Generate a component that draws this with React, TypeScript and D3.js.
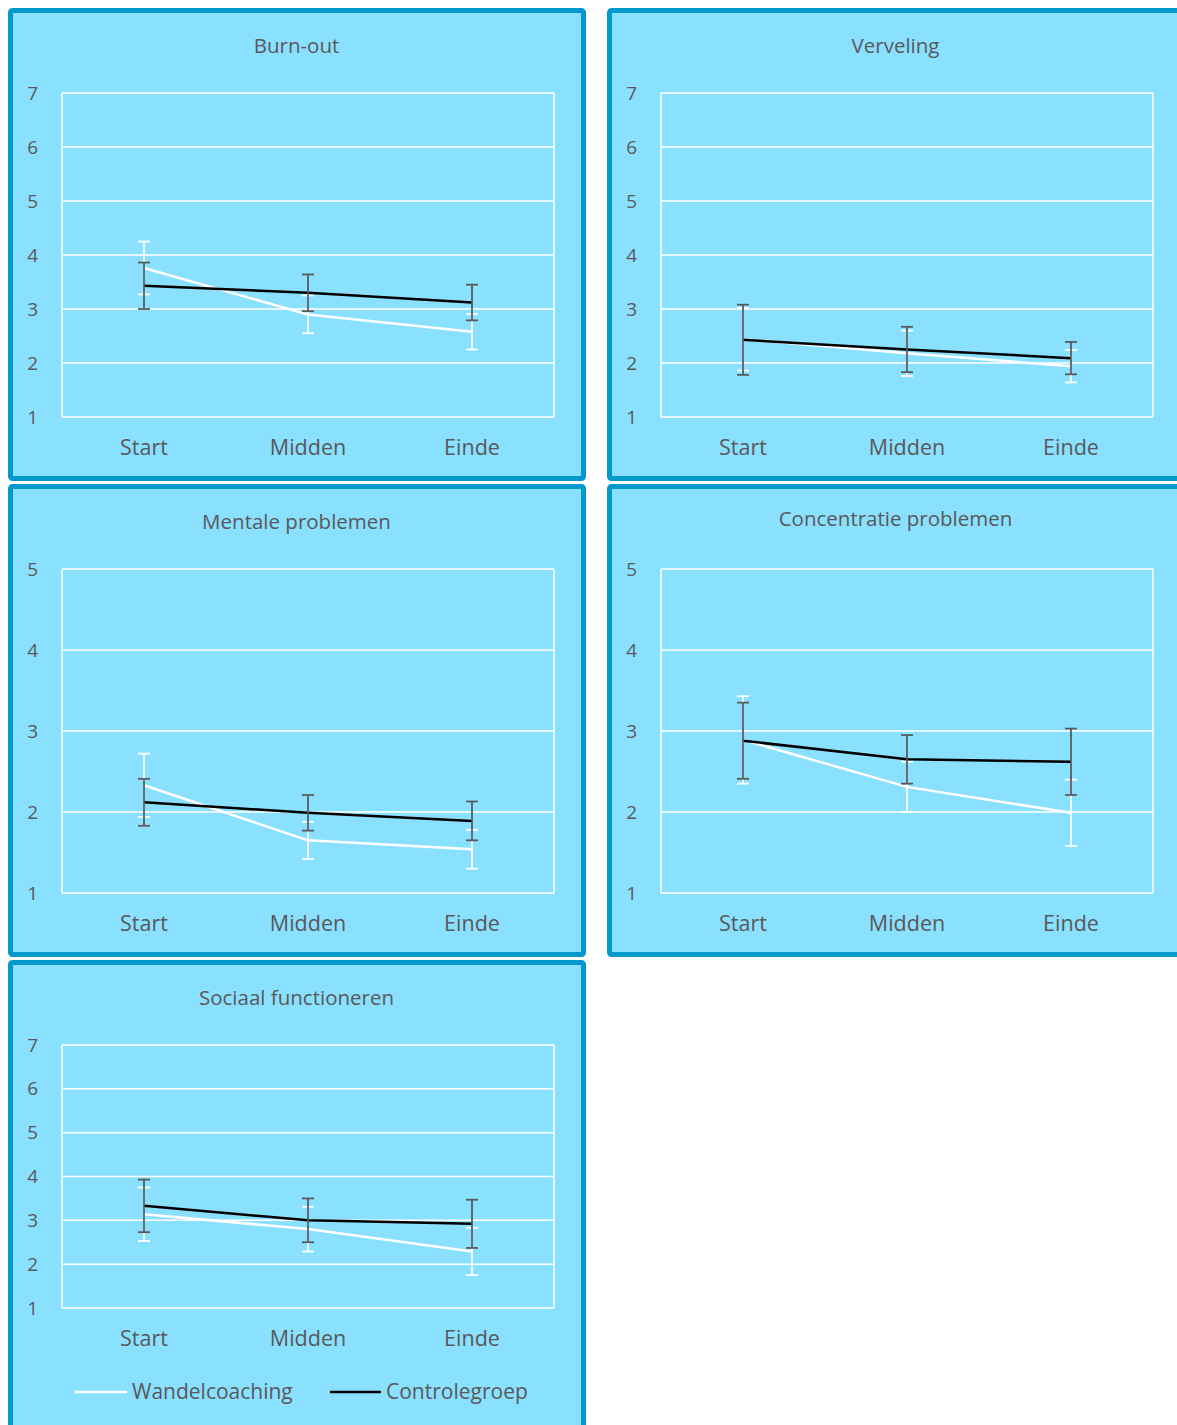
import React from "react";
import * as d3 from "d3";

const categories = ["Start", "Midden", "Einde"];
const seriesNames = ["Wandelcoaching", "Controlegroep"];

const titles = ["Burn-out", "Verveling", "Mentale problemen", "Concentratie problemen", "Sociaal functioneren"];
const yMins = [1, 1, 1, 1, 1];
const yMaxs = [7, 7, 5, 5, 7];

// Wandelcoaching means / error
const wandelMeans = [
  [3.76, 2.9, 2.58],
  [2.44, 2.18, 1.94],
  [2.33, 1.65, 1.54],
  [2.89, 2.31, 1.99],
  [3.14, 2.8, 2.29],
];
const wandelErr = [
  [0.49, 0.35, 0.33],
  [0.58, 0.42, 0.3],
  [0.39, 0.23, 0.24],
  [0.54, 0.31, 0.41],
  [0.61, 0.51, 0.54],
];
// Controlegroep means / error
const controlMeans = [
  [3.43, 3.3, 3.12],
  [2.43, 2.25, 2.09],
  [2.12, 1.99, 1.89],
  [2.88, 2.65, 2.62],
  [3.33, 3.0, 2.92],
];
const controlErr = [
  [0.43, 0.34, 0.33],
  [0.65, 0.42, 0.3],
  [0.29, 0.22, 0.24],
  [0.47, 0.3, 0.41],
  [0.6, 0.5, 0.55],
];

const FONT = "'Open Sans', Lato, sans-serif";
const TEXT = "#595959";
const BG = "#8ae0ff";
const BORDER = "#0399cc";

const panels = [
  { x: 8, y: 8, w: 578, h: 473, plotH: 324, titleDy: 0 },
  { x: 607, y: 8, w: 578, h: 473, plotH: 324, titleDy: 0 },
  { x: 8, y: 484, w: 578, h: 473, plotH: 324, titleDy: 0 },
  { x: 607, y: 484, w: 578, h: 473, plotH: 324, titleDy: -3 },
  { x: 8, y: 960, w: 578, h: 480, plotH: 263, titleDy: 0 },
];

function Panel({ i }: { i: number }) {
  const p = panels[i];
  const left = 54;
  const top = 85;
  const pw = 492;
  const x = d3.scaleBand().domain(categories).range([left, left + pw]);
  const y = d3.scaleLinear().domain([yMins[i], yMaxs[i]]).range([top + p.plotH, top]);
  const ticks = d3.range(yMins[i], yMaxs[i] + 1);
  const cx = (c: string) => (x(c) as number) + x.bandwidth() / 2;
  const line = d3
    .line<number>()
    .x((_, k) => cx(categories[k]))
    .y((v) => y(v));

  const series = [
    { means: wandelMeans[i], errs: wandelErr[i], lineColor: "#ffffff", errColor: "#ffffff" },
    { means: controlMeans[i], errs: controlErr[i], lineColor: "#000000", errColor: "#595959" },
  ];

  return (
    <g transform={`translate(${p.x},${p.y})`}>
      <rect x={2.5} y={2.5} width={p.w - 5} height={p.h - 5} fill={BG} stroke={BORDER} strokeWidth={5} rx={2} />
      <text x={288.5} y={38 + p.titleDy} dy="0.35em" textAnchor="middle" fontFamily={FONT} fontSize={20.5} fill={TEXT}>
        {titles[i]}
      </text>
      {ticks.map((t) => (
        <g key={t}>
          <line x1={left} x2={left + pw} y1={y(t)} y2={y(t)} stroke="#fff" strokeWidth={1.5} />
          <text x={30} y={y(t)} dy="0.35em" textAnchor="end" fontFamily={FONT} fontSize={19} fill={TEXT}>
            {t}
          </text>
        </g>
      ))}
      <line x1={left} x2={left} y1={top} y2={top + p.plotH} stroke="#fff" strokeWidth={1.5} />
      <line x1={left + pw} x2={left + pw} y1={top} y2={top + p.plotH} stroke="#fff" strokeWidth={1.5} />
      {categories.map((c) => (
        <text key={c} x={cx(c)} y={top + p.plotH + 30} dy="0.35em" textAnchor="middle" fontFamily={FONT} fontSize={21.5} fill={TEXT}>
          {c}
        </text>
      ))}
      {series.map((s, si) => (
        <g key={si}>
          <path d={line(s.means) || ""} fill="none" stroke={s.lineColor} strokeWidth={2.5} />
          {s.means.map((m, k) => {
            const xx = cx(categories[k]);
            const y1 = y(m + s.errs[k]);
            const y2 = y(m - s.errs[k]);
            return (
              <g key={k} stroke={s.errColor} strokeWidth={1.75}>
                <line x1={xx} x2={xx} y1={y1} y2={y2} />
                <line x1={xx - 6} x2={xx + 6} y1={y1} y2={y1} />
                <line x1={xx - 6} x2={xx + 6} y1={y2} y2={y2} />
              </g>
            );
          })}
        </g>
      ))}
      {i === 4 && (
        <g>
          <line x1={67} x2={119} y1={432} y2={432} stroke="#fff" strokeWidth={2.5} />
          <text x={124} y={432} dy="0.35em" fontFamily={FONT} fontSize={21} fill={TEXT}>
            {seriesNames[0]}
          </text>
          <line x1={322} x2={373} y1={432} y2={432} stroke="#000" strokeWidth={2.5} />
          <text x={378} y={432} dy="0.35em" fontFamily={FONT} fontSize={21} fill={TEXT}>
            {seriesNames[1]}
          </text>
        </g>
      )}
    </g>
  );
}

export default function App() {
  return (
    <svg
      width={1177}
      height={1425}
      style={{ position: "absolute", left: 0, top: 0, background: "#fff" }}
    >
      {panels.map((_, i) => (
        <Panel key={i} i={i} />
      ))}
    </svg>
  );
}
